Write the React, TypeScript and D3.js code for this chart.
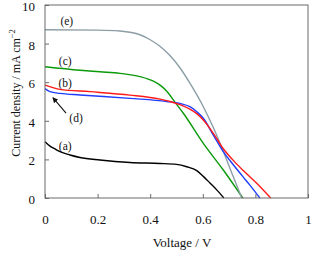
import { useEffect, useRef } from 'react';
import * as d3 from 'd3';

// J-V curves, voltage in V, current density in mA cm-2
const vA = [0, 0.019, 0.038, 0.057, 0.095, 0.133, 0.209, 0.323, 0.437, 0.5, 0.539, 0.577, 0.602, 0.627, 0.653, 0.68];
const jA = [2.92, 2.69, 2.54, 2.4, 2.23, 2.1, 1.97, 1.84, 1.79, 1.74, 1.62, 1.42, 1.12, 0.78, 0.42, 0];

const vB = [0, 0.057, 0.171, 0.323, 0.437, 0.475, 0.513, 0.551, 0.577, 0.602, 0.64, 0.678, 0.716, 0.754, 0.805, 0.858];
const jB = [5.85, 5.63, 5.51, 5.33, 5.12, 5.0, 4.84, 4.6, 4.37, 4.04, 3.35, 2.55, 1.95, 1.42, 0.76, 0];

const vC = [0, 0.133, 0.209, 0.285, 0.361, 0.412, 0.44, 0.463, 0.494, 0.526, 0.602, 0.678, 0.752];
const jC = [6.8, 6.62, 6.54, 6.46, 6.29, 6.05, 5.82, 5.53, 4.97, 4.39, 2.83, 1.45, 0];

const vD = [0, 0.019, 0.057, 0.133, 0.323, 0.463, 0.513, 0.551, 0.577, 0.602, 0.64, 0.678, 0.716, 0.754, 0.779, 0.817];
const jD = [5.67, 5.51, 5.42, 5.34, 5.16, 5.0, 4.9, 4.73, 4.47, 4.13, 3.26, 2.4, 1.72, 1.08, 0.67, 0];

const vE = [0, 0.2, 0.285, 0.361, 0.4, 0.437, 0.475, 0.513, 0.551, 0.602, 0.64, 0.665, 0.716, 0.748];
const jE = [8.72, 8.7, 8.65, 8.46, 8.2, 7.86, 7.38, 6.75, 5.95, 4.73, 3.65, 2.85, 1.1, 0];

const xTicks = [0, 0.2, 0.4, 0.6, 0.8, 1];
const yTicks = [0, 2, 4, 6, 8, 10];

const series = [
  { name: '(a)', v: vA, j: jA, color: '#000000' },
  { name: '(c)', v: vC, j: jC, color: '#0a9a0a' },
  { name: '(e)', v: vE, j: jE, color: '#8c9ea6' },
  { name: '(d)', v: vD, j: jD, color: '#1f3dff' },
  { name: '(b)', v: vB, j: jB, color: '#ff1a1a' },
];

const W = 312;
const H = 254;
const margin = { top: 5, right: 4, bottom: 56, left: 45 };
const font = "'Liberation Serif', 'Times New Roman', serif";

export default function App() {
  const ref = useRef<SVGSVGElement>(null);

  useEffect(() => {
    const svg = d3.select(ref.current);
    svg.selectAll('*').remove();
    const w = W - margin.left - margin.right;
    const h = H - margin.top - margin.bottom;

    const x = d3.scaleLinear().domain([0, 1]).range([0, w]);
    const y = d3.scaleLinear().domain([0, 10]).range([h, 0]);

    const g = svg.append('g').attr('transform', `translate(${margin.left},${margin.top})`);

    const line = d3.line<[number, number]>()
      .x(d => x(d[0])).y(d => y(d[1]))
      .curve(d3.curveMonotoneX);

    series.forEach(s => {
      const pts = s.v.map((v, i) => [v, s.j[i]] as [number, number]);
      g.append('path').attr('d', line(pts)).attr('fill', 'none')
        .attr('stroke', s.color).attr('stroke-width', 1.4);
    });

    // frame
    g.append('rect').attr('x', 0).attr('y', 0).attr('width', w).attr('height', h)
      .attr('fill', 'none').attr('stroke', '#6a6a6a').attr('stroke-width', 1);

    // inward ticks
    const xa = g.append('g').attr('transform', `translate(0,${h})`)
      .call(d3.axisBottom(x).tickValues(xTicks).tickSizeInner(-4).tickSizeOuter(0).tickPadding(17)
        .tickFormat(d => d3.format('')(+d)));
    const ya = g.append('g')
      .call(d3.axisLeft(y).tickValues(yTicks).tickSizeInner(-4).tickSizeOuter(0).tickPadding(10));
    [xa, ya].forEach(a => {
      a.select('.domain').remove();
      a.selectAll('line').attr('stroke', '#6a6a6a');
      a.selectAll('text').attr('fill', '#111')
        .style('font-family', font).style('font-size', '13px');
    });
    ya.selectAll('text').attr('dy', '0.42em');

    // axis titles
    svg.append('text').attr('x', 182).attr('y', 247)
      .attr('text-anchor', 'middle').style('font-family', font).style('font-size', '13px')
      .attr('fill', '#111').text('Voltage / V');

    const yl = svg.append('text')
      .attr('transform', 'translate(20,93) rotate(-90)')
      .attr('text-anchor', 'middle').style('font-family', font).style('font-size', '12px')
      .attr('fill', '#111');
    yl.append('tspan').text('Current density / mA cm');
    yl.append('tspan').attr('dy', -5).style('font-size', '8.5px').text('−2');

    // curve labels
    const labels = [
      { t: '(e)', v: 0.083, j: 8.95 },
      { t: '(c)', v: 0.077, j: 6.9 },
      { t: '(b)', v: 0.077, j: 5.75 },
      { t: '(d)', v: 0.118, j: 3.95 },
      { t: '(a)', v: 0.077, j: 2.5 },
    ];
    labels.forEach(l => {
      g.append('text').attr('x', x(l.v)).attr('y', y(l.j)).attr('text-anchor', 'middle')
        .style('font-family', font).style('font-size', '11.5px').attr('fill', '#111').text(l.t);
    });

    // arrow from (d) label to blue curve
    svg.append('defs').append('marker').attr('id', 'ah').attr('viewBox', '0 0 10 10')
      .attr('refX', 9).attr('refY', 5).attr('markerWidth', 5).attr('markerHeight', 5)
      .attr('orient', 'auto')
      .append('path').attr('d', 'M0,0 L10,5 L0,10 z').attr('fill', '#111');
    g.append('line').attr('x1', x(0.08)).attr('y1', y(4.4)).attr('x2', x(0.03)).attr('y2', y(5.2))
      .attr('stroke', '#111').attr('stroke-width', 1.1).attr('marker-end', 'url(#ah)');
  }, []);

  return (
    <svg ref={ref} width={W} height={H}
      style={{ position: 'absolute', left: 0, top: 0, background: '#fff' }} />
  );
}
